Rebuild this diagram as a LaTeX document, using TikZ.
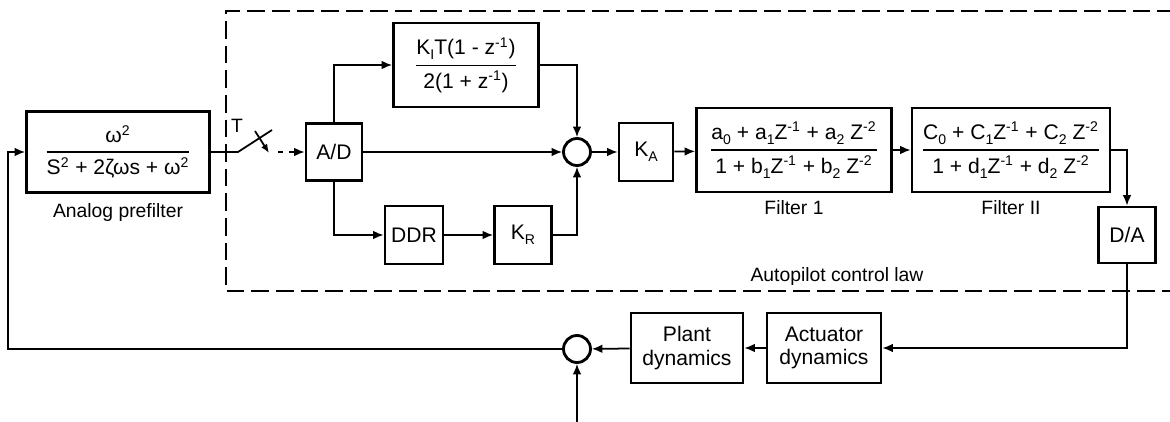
\documentclass[tikz,border=0pt]{standalone}
\usepackage{amsmath}
\usepackage{fontspec}
\setmainfont{Liberation Sans}
\usepackage{tikz}
\usetikzlibrary{arrows.meta, positioning, calc}
\newcommand{\dnx}[1]{\raisebox{-0.45ex}{\footnotesize #1}}
\newcommand{\upx}[1]{\textsuperscript{#1}}
\newcommand{\blockfrac}[2]{$\genfrac{}{}{0.9pt}{0}{\mbox{#1}}{\mbox{#2}}$}
\tikzstyle{block}    = [rectangle, draw=black, line width=1.6pt, inner sep=1pt,
                        text centered, align=center, font=\fontsize{12}{13.5}\selectfont]
\tikzstyle{sumnode}  = [circle, draw=black, line width=1.6pt, minimum size=0.54cm, inner sep=0pt]
\tikzstyle{arrow}    = [line width=1pt, -{Latex[length=6pt,width=5pt]}]
\tikzstyle{line}     = [line width=1pt]
\tikzstyle{boundary} = [line width=1pt, dash pattern=on 10pt off 4pt]

\begin{document}
\begin{tikzpicture}[x=0.02cm, y=-0.02cm, every node/.style={font=\fontsize{11}{13}\selectfont}]
  \useasboundingbox (0,0) rectangle (1170,422);

  % Boundary of the digital control law
  \draw[boundary] (1175,11) -- (226,11) -- (226,291) -- (1175,291);
  \node (lawlabel) at (837,277) {Autopilot control law};

  % Prefilter and sampler
  \node (pre) [block, minimum width=3.66cm, minimum height=1.62cm] at (118,152)
    {\blockfrac{ω\upx{2}}{S\upx{2} + 2ζωs + ω\upx{2}}};
  \node (prelabel) at (118,213) {Analog prefilter};
  \coordinate (swin)  at (238,152);
  \coordinate (swarm) at (272,130);
  \coordinate (swout) at (278,152);
  \node (tlabel) at (237,126) {T};

  % Control law blocks
  \node (ad)  [block, minimum width=1.12cm, minimum height=1.14cm] at (334,152) {A/D};
  \node (ki)  [block, minimum width=2.9cm, minimum height=1.68cm] at (466,65)
    {\blockfrac{K\dnx{I}T(1 - z\upx{-1})}{2(1 + z\upx{-1})}};
  \node (ddr) [block, minimum width=1.16cm, minimum height=1.16cm] at (414,235) {DDR};
  \node (kr)  [block, minimum width=1.14cm, minimum height=1.16cm] at (523,235) {K\dnx{R}};
  \node (sum1) [sumnode] at (577,152) {};
  \node (ka)  [block, minimum width=1.08cm, minimum height=1.16cm] at (646,152) {K\dnx{A}};
  \node (f1)  [block, minimum width=3.9cm, minimum height=1.68cm] at (794,150)
    {\blockfrac{a\dnx{0} + a\dnx{1}Z\upx{-1} + a\dnx{2} Z\upx{-2}}{1 + b\dnx{1}Z\upx{-1} + b\dnx{2} Z\upx{-2}}};
  \node (f1label) at (794,208) {Filter 1};
  \node (f2)  [block, minimum width=3.96cm, minimum height=1.68cm] at (1011,150)
    {\blockfrac{C\dnx{0} + C\dnx{1}Z\upx{-1} + C\dnx{2} Z\upx{-2}}{1 + d\dnx{1}Z\upx{-1} + d\dnx{2} Z\upx{-2}}};
  \node (f2label) at (1011,208) {Filter II};
  \node (da)  [block, minimum width=1.14cm, minimum height=1.12cm] at (1127,235) {D/A};

  % Plant loop
  \node (act)   [block, minimum width=2.28cm, minimum height=1.4cm] at (824,348) {Actuator\\dynamics};
  \node (plant) [block, minimum width=2.24cm, minimum height=1.4cm] at (687,348) {Plant\\dynamics};
  \node (sum2)  [sumnode] at (577,349) {};
  \coordinate (fbleft) at (8,250);
  \coordinate (disturb) at (577,425);

  % Prefilter -> sampler
  \draw[line] (pre.east) -- (swin) -- (swarm);
  \draw[line, -{Latex[length=5pt,width=4pt]}] (255,131) -- (269,153);
  \draw[arrow, dashed] (swout) -- (ad.west);
  % A/D -> three paths -> sum
  \draw[arrow] (ad.north) |- (ki.west);
  \draw[arrow] (ki.east) -| (sum1.north);
  \draw[arrow] (ad.east) -- (sum1.west);
  \draw[arrow] (ad.south) |- (ddr.west);
  \draw[arrow] (ddr) -- (kr);
  \draw[arrow] (kr.east) -| (sum1.south);
  % Sum -> gain -> filters -> D/A
  \draw[arrow] (sum1) -- (ka);
  \draw[arrow] (ka) -- (f1);
  \draw[arrow] (f1) -- (f2);
  \draw[arrow] (f2.east) -| (da.north);
  % D/A -> actuator -> plant -> feedback
  \draw[arrow] (da.south) |- (act.east);
  \draw[arrow] (act) -- (plant);
  \draw[arrow] (plant) -- (sum2);
  \draw[arrow] (disturb) -- (sum2.south);
  \draw[arrow] (sum2.west) -| (fbleft) |- (pre.west);

\end{tikzpicture}
\end{document}
